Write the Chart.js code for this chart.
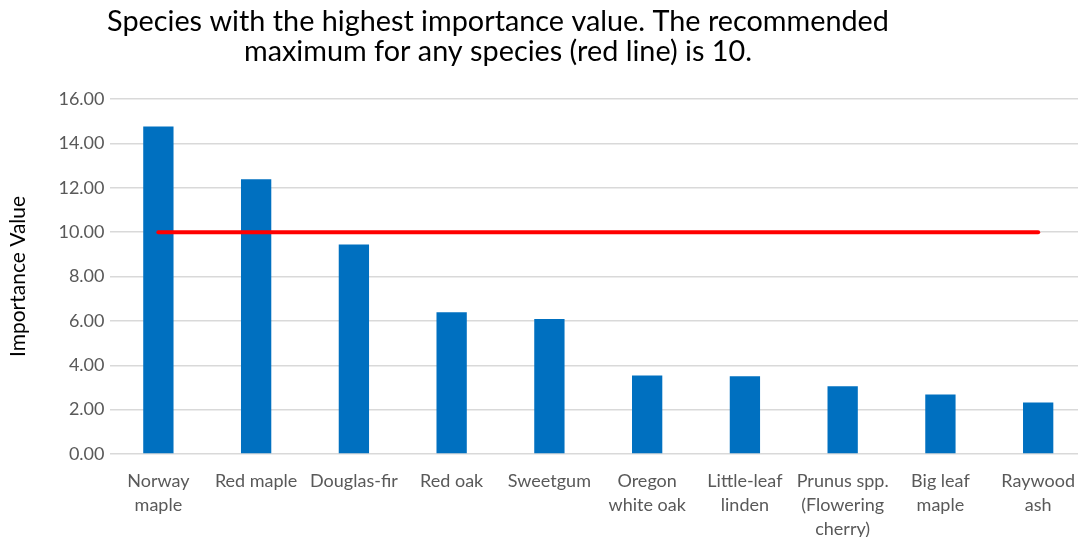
<!DOCTYPE html>
<html>
<head>
<meta charset="utf-8">
<script src="https://cdn.jsdelivr.net/npm/chart.js@4"></script>
<style>
  html, body { margin: 0; padding: 0; background: #ffffff; overflow: hidden; }
  #wrap { position: relative; width: 1090px; height: 537px; }
</style>
</head>
<body>
<div id="wrap"><canvas id="c"></canvas></div>
<script>
const categories = [
  ['Norway', 'maple'],
  'Red maple',
  'Douglas-fir',
  'Red oak',
  'Sweetgum',
  ['Oregon', 'white oak'],
  ['Little-leaf', 'linden'],
  ['Prunus spp.', '(Flowering', 'cherry)'],
  ['Big leaf', 'maple'],
  ['Raywood', 'ash']
];
const importanceValues = [14.76, 12.38, 9.44, 6.39, 6.08, 3.54, 3.50, 3.05, 2.68, 2.32];
const recommendedMax = [10, 10, 10, 10, 10, 10, 10, 10, 10, 10];
const titleLines = [
  'Species with the highest importance value. The recommended',
  'maximum for any species (red line) is 10.'
];
const yAxisTitle = 'Importance Value';

const titlePlugin = {
  id: 'customTitle',
  afterDraw(chart) {
    const ctx = chart.ctx;
    ctx.save();
    ctx.font = '28.8px Lato';
    ctx.fillStyle = '#000000';
    ctx.textAlign = 'center';
    ctx.textBaseline = 'middle';
    ctx.fillText(titleLines[0], 498, 22);
    ctx.fillText(titleLines[1], 498, 52);
    ctx.restore();
  }
};

new Chart(document.getElementById('c'), {
  data: {
    labels: categories,
    datasets: [
      {
        type: 'line',
        data: recommendedMax,
        borderColor: '#FF0000',
        borderWidth: 4,
        borderCapStyle: 'round',
        pointRadius: 0,
        fill: false,
        order: 0
      },
      {
        type: 'bar',
        data: importanceValues,
        backgroundColor: '#0070C0',
        categoryPercentage: 1,
        barPercentage: 0.31,
        order: 1
      }
    ]
  },
  options: {
    responsive: true,
    maintainAspectRatio: false,
    animation: false,
    layout: { padding: { top: 99, right: 0, left: 0, bottom: 0 } },
    plugins: { legend: { display: false }, tooltip: { enabled: false } },
    scales: {
      x: {
        grid: { display: false, drawTicks: false },
        border: { display: false },
        ticks: {
          color: '#595959',
          font: { family: 'Lato', size: 18, lineHeight: '24px' },
          padding: 15,
          maxRotation: 0,
          autoSkip: false
        },
        afterFit(scale) { scale.height = 83; }
      },
      y: {
        min: 0,
        max: 16,
        ticks: {
          stepSize: 2,
          color: '#595959',
          font: { family: 'Lato', size: 18 },
          padding: 5,
          callback: v => v.toFixed(2)
        },
        grid: { color: '#d9d9d9', lineWidth: 1.5, drawTicks: false },
        border: { display: false },
        title: {
          display: true,
          text: yAxisTitle,
          color: '#000000',
          font: { family: 'Lato', size: 21 },
          padding: { top: 6, bottom: 0 }
        },
        afterFit(scale) { scale.width = 109.5; }
      }
    }
  },
  plugins: [titlePlugin]
});
</script>
</body>
</html>
